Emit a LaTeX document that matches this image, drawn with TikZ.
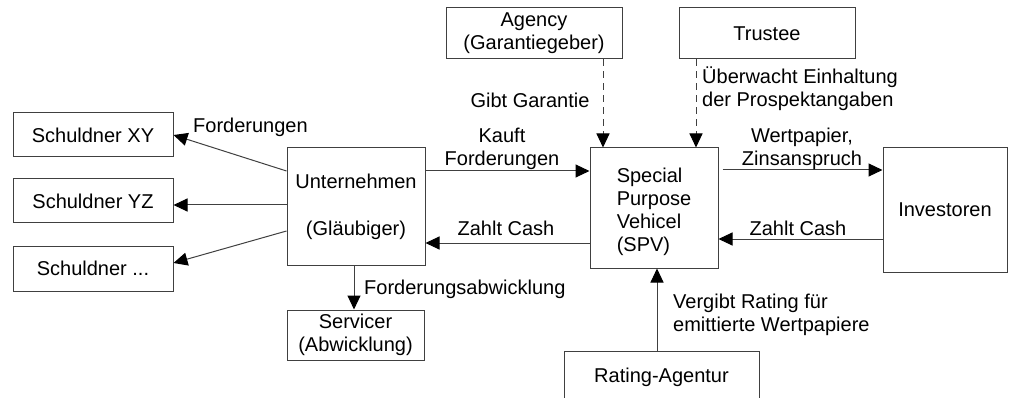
\documentclass[tikz,border=0pt]{standalone}
\usepackage{fontspec}
\setmainfont{Liberation Sans}
\usetikzlibrary{arrows.meta,calc}
\newcommand{\dfont}{\fontsize{20}{23}\selectfont}
\begin{document}
\begin{tikzpicture}[x=1pt,y=-1pt,
  box/.style={draw=black!75, line width=1pt, inner sep=0pt, align=center, font=\dfont},
  lbl/.style={inner sep=0pt, align=center, font=\dfont},
  arr/.style={draw=black!75, line width=1pt, -{Triangle[length=14pt,width=13pt,color=black,fill=black]}},
  darr/.style={arr, dash pattern=on 7pt off 5pt}]
\useasboundingbox (0,0) rectangle (1009,398);
\clip (0,0) rectangle (1009,398);
% boxes
\node[box, minimum width=160pt, minimum height=44pt] (sxy) at (93,135) {Schuldner XY};
\node[box, minimum width=160pt, minimum height=44pt] (syz) at (93,201) {Schuldner YZ};
\node[box, minimum width=160pt, minimum height=45pt] (sdots) at (93,268.5) {Schuldner ...};
\node[box, minimum width=138pt, minimum height=117pt] (unt) at (356,206.5) {Unternehmen\\[24pt](Gläubiger)};
\node[box, minimum width=176pt, minimum height=51pt] (agency) at (534,33.5) {Agency\\(Garantiegeber)};
\node[box, minimum width=176pt, minimum height=51pt] (trustee) at (767,33.5) {Trustee};
\node[box, minimum width=128pt, minimum height=120pt] (spv) at (654,208) {};
\node[lbl, align=left] (spvt) at ([yshift=-4pt]spv.center) {Special\\Purpose\\Vehicel\\(SPV)};
\node[box, minimum width=124pt, minimum height=124pt] (inv) at (945,210) {Investoren};
\node[box, minimum width=137pt, minimum height=50pt] (serv) at (355.5,335) {Servicer\\(Abwicklung)};
\node[box, minimum width=195pt, minimum height=52pt] (rating) at (661.5,377) {Rating-Agentur};
% helper x positions
\coordinate (xa) at (603,0);
\coordinate (xt) at (696,0);
\coordinate (xs) at (354,0);
\coordinate (xr) at (657,0);
% connectors
\draw[arr] ([yshift=35.5pt]unt.west) -- (sxy.east);
\draw[arr] ([yshift=-4pt]syz.east -| unt.west) -- ([yshift=-4pt]syz.east);
\draw[arr] ([yshift=-24.5pt]unt.west) -- ([yshift=5.5pt]sdots.east);
\draw[arr] ([yshift=35.5pt]unt.east) -- ([yshift=35.5pt]unt.east -| spv.west);
\draw[arr] ([yshift=-35pt]spv.west) -- ([yshift=-35pt]spv.west -| unt.east);
\draw[arr] ([shift={(4pt,38pt)}]spv.east) -- ([yshift=38pt]spv.east -| inv.west);
\draw[arr] ([yshift=-31pt]spv.east -| inv.west) -- ([yshift=-31pt]spv.east);
\draw[darr] (agency.south -| xa) -- (spv.north -| xa);
\draw[darr] (trustee.south -| xt) -- (spv.north -| xt);
\draw[arr] (unt.south -| xs) -- (serv.north -| xs);
\draw[arr] (rating.north -| xr) -- (spv.south -| xr);
% labels
\node[lbl, anchor=west] (l1) at (193,127) {Forderungen};
\node[lbl] (l2) at (502,148.5) {Kauft\\Forderungen};
\node[lbl] (l3) at (530,100) {Gibt Garantie};
\node[lbl, align=left, anchor=west] (l4) at (702,88.5) {Überwacht Einhaltung\\der Prospektangaben};
\node[lbl] (l5) at (802,149) {Wertpapier,\\Zinsanspruch};
\node[lbl] (l6) at (506,228) {Zahlt Cash};
\node[lbl] (l7) at (798,228) {Zahlt Cash};
\node[lbl, anchor=west] (l8) at (364,289) {Forderungsabwicklung};
\node[lbl, align=left, anchor=west] (l9) at (673,315) {Vergibt Rating für\\emittierte Wertpapiere};
\end{tikzpicture}
\end{document}
